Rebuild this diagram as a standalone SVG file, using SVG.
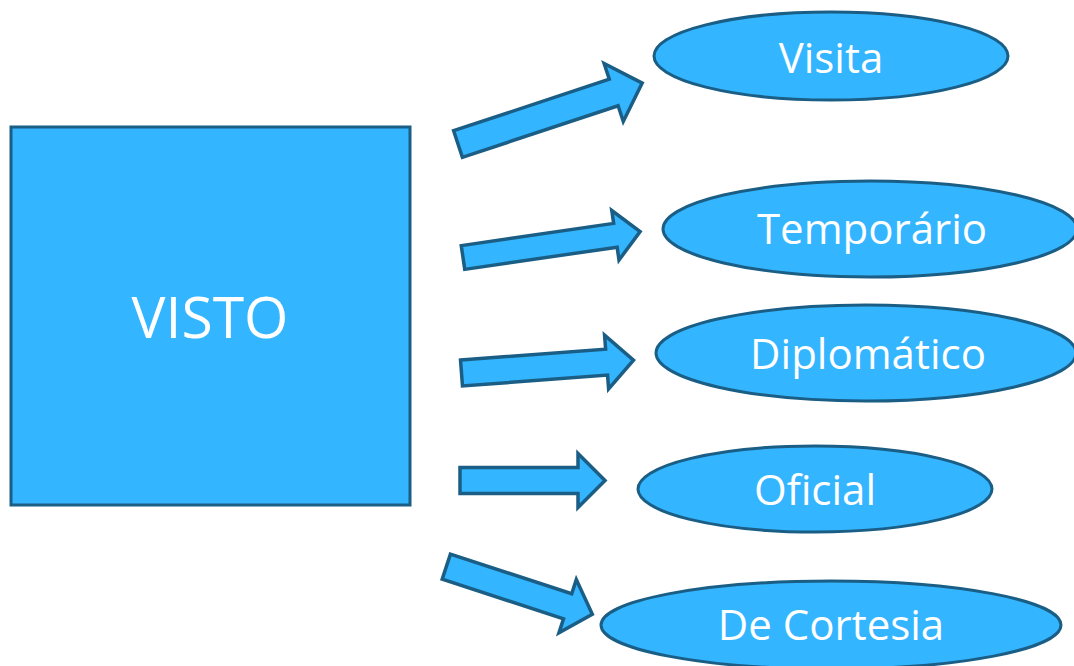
<svg xmlns="http://www.w3.org/2000/svg" width="1074" height="666" viewBox="0 0 1074 666">
<style>
.shape{fill:#33B5FF;stroke:#1B5E85;stroke-width:3}
.arrow{fill:#33B5FF;stroke:#1B5E85;stroke-width:3.5;stroke-linejoin:miter}
.lbl{fill:#FFFFFF;font-family:"Open Sans","Noto Sans",sans-serif;font-size:42px;text-anchor:middle}
</style>
<rect width="1074" height="666" fill="#FFFFFF"/>
<g id="visto">
<rect class="shape" x="11" y="127" width="399" height="378"/>
<text class="lbl" x="210" y="338" style="font-size:57px">VISTO</text>
</g>
<g id="visita">
<ellipse class="shape" cx="831" cy="56" rx="177" ry="44"/>
<text class="lbl" x="831" y="73">Visita</text>
</g>
<g id="temporario">
<ellipse class="shape" cx="870" cy="229" rx="207" ry="48"/>
<text class="lbl" x="872" y="244">Temporário</text>
</g>
<g id="diplomatico">
<ellipse class="shape" cx="866" cy="353" rx="210" ry="48"/>
<text class="lbl" x="868" y="369">Diplomático</text>
</g>
<g id="oficial">
<ellipse class="shape" cx="815" cy="489" rx="177" ry="43"/>
<text class="lbl" x="815" y="505">Oficial</text>
</g>
<g id="decortesia">
<ellipse class="shape" cx="831" cy="625" rx="230" ry="44"/>
<text class="lbl" x="831" y="640">De Cortesia</text>
</g>
<g id="connectors">
<polygon class="arrow" transform="translate(458,144) rotate(-18.3)" points="0,-14 164,-14 164,-30.5 194,0 164,30.5 164,14 0,14"/>
<polygon class="arrow" transform="translate(463,257.5) rotate(-8.3)" points="0,-12 154,-12 154,-25 179,0 154,25 154,12 0,12"/>
<polygon class="arrow" transform="translate(461.5,373) rotate(-4.3)" points="0,-13 145.5,-13 145.5,-27 172.5,0 145.5,27 145.5,13 0,13"/>
<polygon class="arrow" transform="translate(460,480.5)" points="0,-13 118,-13 118,-27 145,0 118,27 118,13 0,13"/>
<polygon class="arrow" transform="translate(446.3,566.7) rotate(18.06)" points="0,-13.2 127.6,-13.2 127.6,-28 153.6,0 127.6,28 127.6,13.2 0,13.2"/>
</g>
</svg>
